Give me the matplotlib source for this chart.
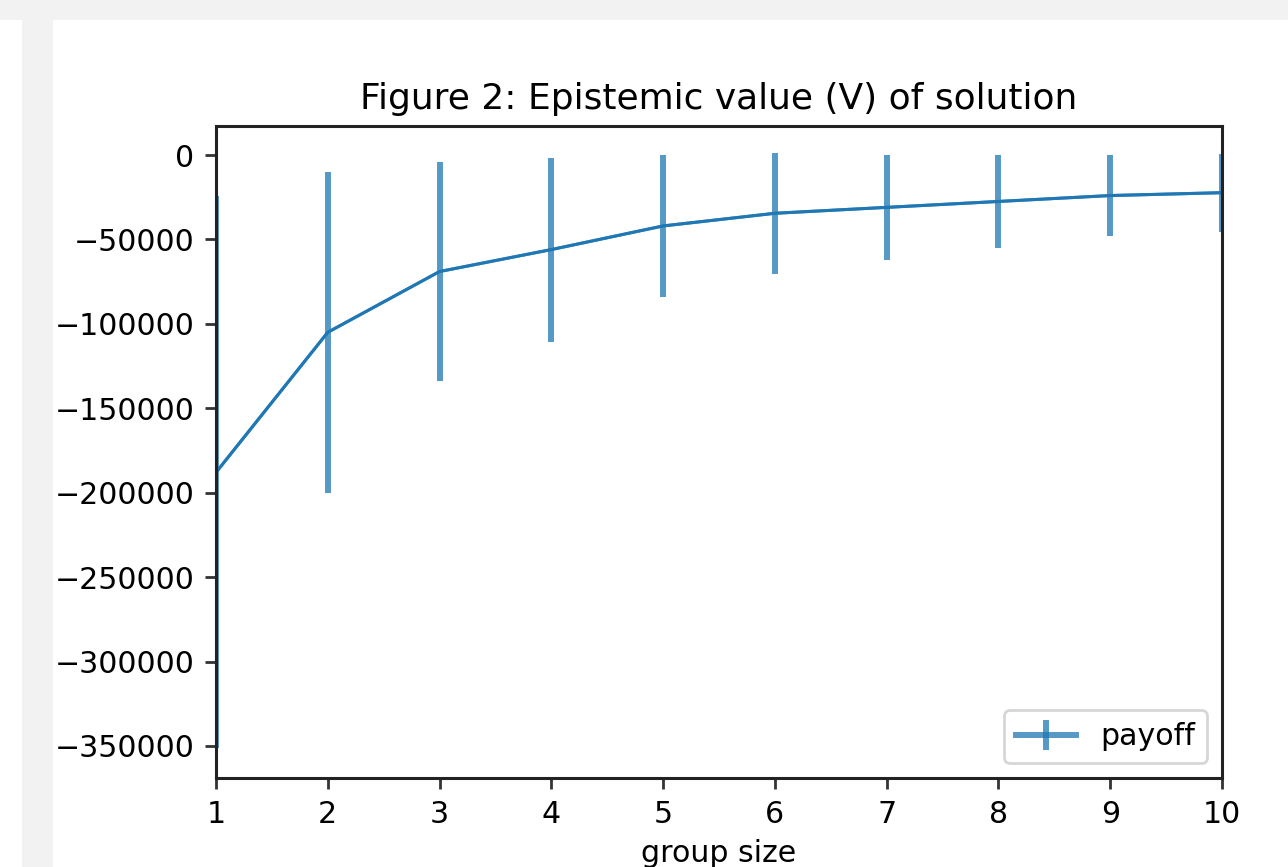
import numpy as np
import matplotlib
matplotlib.use('Agg')
import matplotlib.pyplot as plt
from matplotlib.patches import Rectangle

# data
group_size = [1, 2, 3, 4, 5, 6, 7, 8, 9, 10]
payoff = [-188000, -105000, -69000, -56000, -42000, -34500, -31000, -27500, -24000, -22300]
payoff_err = [163500, 95000, 65000, 54500, 42000, 35700, 31300, 27700, 23900, 23000]

W, H = 1288, 867
fig = plt.figure(figsize=(W / 100, H / 100), dpi=100)
fig.patch.set_facecolor('white')

# notebook border around the output cell
gray = '#f2f2f2'
fig.patches.append(Rectangle((0, 1 - 20 / H), 1, 20 / H, transform=fig.transFigure,
                             facecolor=gray, edgecolor='none', zorder=-10))
fig.patches.append(Rectangle((22 / W, 0), 31 / W, 1 - 20 / H, transform=fig.transFigure,
                             facecolor=gray, edgecolor='none', zorder=-10))

left, right, top, bottom = 216, 1222, 126, 778
ax = fig.add_axes([left / W, 1 - bottom / H, (right - left) / W, (bottom - top) / H])

blue = '#1f77b4'
ax.errorbar(group_size, payoff, yerr=payoff_err, color=blue, alpha=0.75,
            lw=2.2, elinewidth=4.3)
ax.plot(group_size, payoff, color=blue, lw=2.2)
# legend entry only (thicker handle like the reference)
ax.errorbar([np.nan], [np.nan], yerr=[np.nan], color=blue, alpha=0.75,
            lw=4.3, elinewidth=4.3, label='payoff')

ax.set_xlim(1, 10)
ax.set_ylim(-369000, 17200)
ax.set_xticks(group_size)
ax.set_yticks(np.arange(-350000, 1, 50000))

fs = 21.6
ax.tick_params(labelsize=fs, length=8.2, width=2.0, pad=7.5, color='#333333')
for s in ax.spines.values():
    s.set_linewidth(2.2)
    s.set_color('#222222')

ax.set_title('Figure 2: Epistemic value (V) of solution', fontsize=25.9, pad=12)
ax.set_xlabel('group size', fontsize=fs, labelpad=7)

leg = ax.legend(loc='lower right', fontsize=fs, handlelength=2.0, borderpad=0.4,
                handletextpad=0.8, borderaxespad=0.5)
leg.get_frame().set_linewidth(2.0)
leg.get_frame().set_edgecolor('#cccccc')

fig.savefig('out.png', dpi=100)
